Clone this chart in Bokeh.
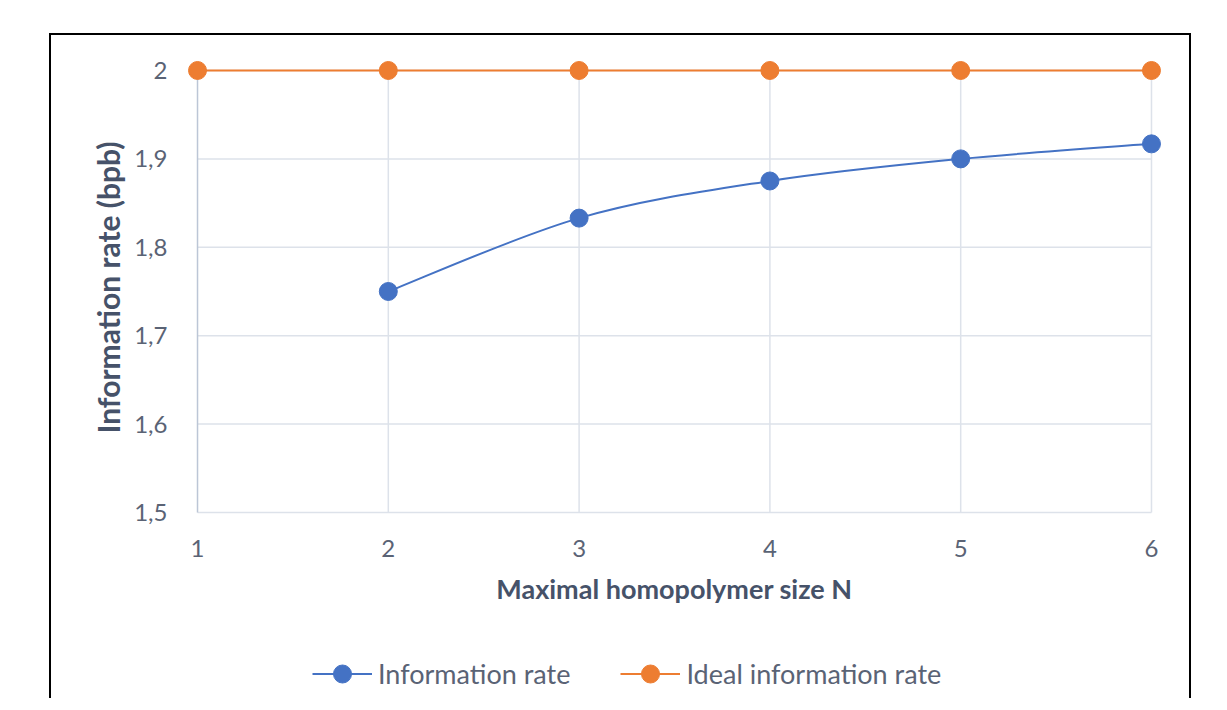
from bokeh.plotting import figure
from bokeh.models import Range1d, FixedTicker, Legend, LegendItem, Spacer
from bokeh.layouts import row, column
from bokeh.embed import file_html
from bokeh.resources import INLINE

# ---- data ----
n_values = [1, 2, 3, 4, 5, 6]
ideal_rate = [2.0, 2.0, 2.0, 2.0, 2.0, 2.0]
info_n = [2, 3, 4, 5, 6]
info_rate = [1.75, 1.833, 1.875, 1.9, 1.917]
x_ticks = [1, 2, 3, 4, 5, 6]
y_ticks = [1.5, 1.6, 1.7, 1.8, 1.9, 2.0]
y_tick_labels = ["1,5", "1,6", "1,7", "1,8", "1,9", "2"]
x_title = "Maximal homopolymer size N"
y_title = "Information rate (bpb)"
series_names = ["Information rate", "Ideal information rate"]

BLUE = "#4472C4"
ORANGE = "#ED7D31"
GRID = "#DDE2EA"
AXIS = "#BCC6D6"
TICK_TXT = "#5A6375"
TITLE_TXT = "#465269"
FONT = "Lato"
BORDER = "2px solid black"

p = figure(width=1142, height=595, output_backend="svg", toolbar_location=None,
           x_range=Range1d(0.9475, 6.0525), y_range=Range1d(1.4977, 2.0113),
           min_border_left=136, min_border_right=32, min_border_top=25,
           min_border_bottom=116)
p.styles = {"border-top": BORDER, "border-left": BORDER, "border-right": BORDER}
p.outline_line_color = None
p.xgrid.visible = False
p.ygrid.visible = False

# axes
p.xaxis.ticker = FixedTicker(ticks=x_ticks)
p.yaxis.ticker = FixedTicker(ticks=y_ticks)
p.yaxis.major_label_overrides = {t: l for t, l in zip(y_ticks, y_tick_labels)}
for ax in (p.xaxis, p.yaxis):
    ax.axis_line_color = None
    ax.major_tick_line_color = None
    ax.minor_tick_line_color = None
    ax.major_label_text_font = FONT
    ax.major_label_text_font_size = "24px"
    ax.major_label_text_color = TICK_TXT
    ax.axis_label_text_font = FONT
    ax.axis_label_text_font_style = "bold"
    ax.axis_label_text_color = TITLE_TXT
p.xaxis.axis_label_text_font_size = "27px"
p.yaxis.axis_label_text_font_size = "30px"
p.xaxis.axis_label = x_title
p.yaxis.axis_label = y_title
p.xaxis.major_label_standoff = 19
p.xaxis.axis_label_standoff = 12
p.yaxis.major_label_standoff = 14
p.yaxis.axis_label_standoff = 5

# gridlines (from tick lists)
y0, y1 = y_ticks[0], y_ticks[-1]
x0, x1 = x_ticks[0], x_ticks[-1]
p.segment(x0=[x0] * len(y_ticks), y0=y_ticks, x1=[x1] * len(y_ticks), y1=y_ticks,
          line_color=GRID, line_width=1.5)
p.segment(x0=x_ticks[1:], y0=[y0] * (len(x_ticks) - 1), x1=x_ticks[1:],
          y1=[y1] * (len(x_ticks) - 1), line_color=GRID, line_width=1.5)
p.segment(x0=[x0], y0=[y0], x1=[x0], y1=[y1], line_color=AXIS, line_width=1.5)

# ideal series
p.line(n_values, ideal_rate, line_color=ORANGE, line_width=2)
p.scatter(n_values, ideal_rate, size=18, fill_color=ORANGE, line_color=ORANGE)


# smoothed information rate curve (Catmull-Rom -> Bezier through the data points)
def smooth_segments(xs, ys, t=1.0 / 6.0):
    px = [xs[0]] + list(xs) + [xs[-1]]
    py = [ys[0]] + list(ys) + [ys[-1]]
    out = dict(x0=[], y0=[], x1=[], y1=[], cx0=[], cy0=[], cx1=[], cy1=[])
    for i in range(len(xs) - 1):
        out["x0"].append(xs[i]); out["y0"].append(ys[i])
        out["x1"].append(xs[i + 1]); out["y1"].append(ys[i + 1])
        out["cx0"].append(xs[i] + (xs[i + 1] - px[i]) * t)
        out["cy0"].append(ys[i] + (ys[i + 1] - py[i]) * t)
        out["cx1"].append(xs[i + 1] - (px[i + 3] - xs[i]) * t)
        out["cy1"].append(ys[i + 1] - (py[i + 3] - ys[i]) * t)
    return out


seg = smooth_segments(info_n, info_rate)
p.bezier(x0=seg["x0"], y0=seg["y0"], x1=seg["x1"], y1=seg["y1"],
         cx0=seg["cx0"], cy0=seg["cy0"], cx1=seg["cx1"], cy1=seg["cy1"],
         line_color=BLUE, line_width=2)
p.scatter(info_n, info_rate, size=18, fill_color=BLUE, line_color=BLUE)

# ---- legend strip (continuation of the chart box) ----
q = figure(width=1142, height=70, output_backend="svg", toolbar_location=None,
           x_range=Range1d(0, 1), y_range=Range1d(0, 1),
           x_axis_location=None, y_axis_location=None,
           min_border_left=0, min_border_right=0, min_border_top=0,
           min_border_bottom=0)
q.styles = {"border-left": BORDER, "border-right": BORDER}
q.outline_line_color = None
q.xgrid.visible = False
q.ygrid.visible = False
# legend swatch renderers (hidden; only their legend glyphs are shown)
sw_info_l = q.line(info_n, info_rate, line_color=BLUE, line_width=2, visible=False)
sw_info_m = q.scatter(info_n, info_rate, size=18, fill_color=BLUE, line_color=BLUE,
                      visible=False)
sw_ideal_l = q.line(n_values, ideal_rate, line_color=ORANGE, line_width=2,
                    visible=False)
sw_ideal_m = q.scatter(n_values, ideal_rate, size=18, fill_color=ORANGE,
                       line_color=ORANGE, visible=False)

legend = Legend(items=[
    LegendItem(label=series_names[0], renderers=[sw_info_l, sw_info_m]),
    LegendItem(label=series_names[1], renderers=[sw_ideal_l, sw_ideal_m]),
], orientation="horizontal", location=(125, 2))
legend.glyph_width = 60
legend.glyph_height = 45
legend.label_standoff = 6
legend.spacing = 50
legend.padding = 0
legend.margin = 0
legend.border_line_color = None
legend.background_fill_alpha = 0
legend.label_text_font = FONT
legend.label_text_font_size = "27px"
legend.label_text_color = TICK_TXT
q.add_layout(legend, "center")

layout = row(Spacer(width=49), column(Spacer(height=33), p, q))
open("out.html", "w").write(file_html(layout, INLINE))
